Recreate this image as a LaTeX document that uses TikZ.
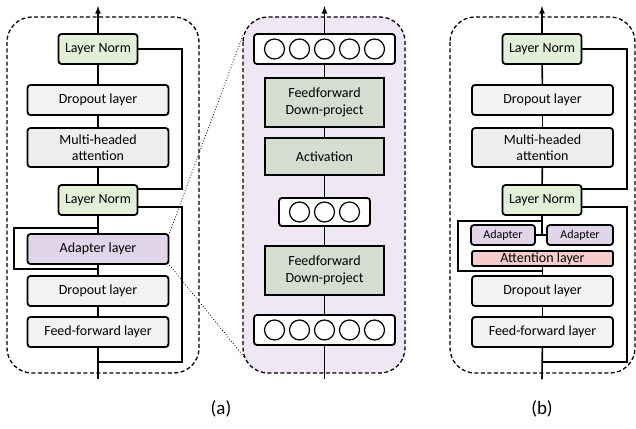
\documentclass[tikz,border=0pt]{standalone}
\usepackage{fontspec}
\setmainfont{Carlito}
\usetikzlibrary{arrows,shapes}
\definecolor{normgreen}{HTML}{E2EFD9}
\definecolor{paleGrey}{HTML}{F2F2F2}
\definecolor{attnGrey}{HTML}{EDEDED}
\definecolor{adaptPurple}{HTML}{E1D5EA}
\definecolor{projGreen}{HTML}{D5DCD0}
\definecolor{panelPurple}{HTML}{EFE7F4}
\definecolor{attnPink}{HTML}{F4CCCC}
\tikzstyle{layer}=[draw,rounded corners=3pt,line width=1.8pt,inner sep=0pt,align=center,font=\fontsize{14}{16.5}\selectfont]
\tikzstyle{norm}=[layer,fill=normgreen,minimum width=79pt,minimum height=30pt]
\tikzstyle{wide}=[layer,fill=paleGrey,minimum width=141pt,minimum height=30pt]
\tikzstyle{proj}=[layer,rounded corners=0pt,fill=projGreen,minimum width=119pt]
\tikzstyle{units}=[layer,fill=white]
\tikzstyle{unit}=[circle,draw,line width=1.2pt,minimum size=20pt,inner sep=0pt]
\tikzstyle{small}=[layer,fill=adaptPurple,minimum height=20pt,font=\fontsize{12}{14}\selectfont]
\tikzstyle{edge}=[draw,line width=1.6pt,-]
\tikzstyle{frame}=[draw,line width=1.3pt,dash pattern=on 4pt off 2.5pt,rounded corners=25pt]
\tikzstyle{zoomline}=[draw,line width=0.8pt,dotted]
\tikzstyle{caption}=[font=\fontsize{19}{22}\selectfont]

\begin{document}
\begin{tikzpicture}[x=1pt,y=-1pt]
    \useasboundingbox (0,0) rectangle (636,428);
    % (a) transformer block with one adapter
    \draw[frame] (7,17) rectangle (199,373);
    \node[norm] (ln1) at (98,49) {Layer Norm};
    \node[wide] (drop1) at (98,100) {Dropout layer};
    \node[wide,fill=attnGrey,minimum height=39pt] (mha) at (98,147.5) {Multi-headed\\attention};
    \node[norm] (ln2) at (98,200) {Layer Norm};
    \node[wide,fill=adaptPurple] (adapt) at (98,249) {Adapter layer};
    \node[wide] (drop2) at (98,291) {Dropout layer};
    \node[wide] (ff) at (98,332) {Feed-forward layer};
    \coordinate (outa) at (98,6);
    \coordinate (ina) at (98,379);
    \foreach \source/\dest in {ln1/drop1, drop1/mha, mha/ln2, ln2/adapt, adapt/drop2, drop2/ff}
        \path[edge] (\source) -- (\dest);
    \path[edge,-latex] (ln1) -- (outa);
    \path[edge] (ina) -- (ff);
    % residual connections
    \path[edge] (ln1.east) -| (182,189) -- (ln2.east |- 0,189);
    \path[edge] (ln2.east |- 0,207) -| (182,362) -- (98,362);
    \path[edge] (98,228) -| (14,269) -- (98,269);

    % adapter internals
    \draw[frame,fill=panelPurple] (243,17) rectangle (405,373);
    \node[units,minimum width=141pt,minimum height=30pt] (upper) at (324.5,49) {};
    \node[proj,minimum height=49pt] (up) at (324.5,102.5) {Feedforward\\Down-project};
    \node[proj,minimum height=37pt] (act) at (324.5,156.5) {Activation};
    \node[units,minimum width=91pt,minimum height=28pt] (bottleneck) at (324.5,212) {};
    \node[proj,minimum height=49pt] (down) at (324.5,270.5) {Feedforward\\Down-project};
    \node[units,minimum width=141pt,minimum height=30pt] (lower) at (324.5,330) {};
    \foreach \i in {-2,...,2} {
        \node[unit] (u\i) at (324.5+25*\i,49) {};
        \node[unit] (l\i) at (324.5+25*\i,330) {};
    }
    \foreach \i in {-1,0,1}
        \node[unit] (b\i) at (324.5+25*\i,212) {};
    \coordinate (outm) at (324.5,6);
    \coordinate (inm) at (324.5,379);
    \foreach \source/\dest in {upper/up, up/act, act/bottleneck, bottleneck/down, down/lower}
        \path[edge] (\source) -- (\dest);
    \path[edge,-latex] (upper) -- (outm);
    \path[edge] (inm) -- (lower);
    \coordinate (zoomtop) at (243,35);
    \coordinate (zoombot) at (245,358);
    \path[zoomline] (adapt.north east) -- (zoomtop);
    \path[zoomline] (adapt.south east) -- (zoombot);

    % (b) parallel adapters around attention
    \draw[frame] (450,17) rectangle (635,373);
    \node[norm] (lnb1) at (542,49) {Layer Norm};
    \node[wide] (dropb1) at (542.5,100) {Dropout layer};
    \node[wide,fill=attnGrey,minimum height=39pt] (mhab) at (542.5,147.5) {Multi-headed\\attention};
    \node[norm] (lnb2) at (542,200) {Layer Norm};
    \node[small,minimum width=64pt] (adl) at (503,235) {Adapter};
    \node[small,minimum width=66pt] (adr) at (580,235) {Adapter};
    \node[wide,fill=attnPink,minimum height=15pt,rounded corners=2pt] (att) at (542.5,258.5) {Attention layer};
    \node[wide] (dropb2) at (542.5,291) {Dropout layer};
    \node[wide] (ffb) at (542.5,332) {Feed-forward layer};
    \coordinate (outb) at (542,6);
    \coordinate (inb) at (542,379);
    \foreach \source/\dest in {lnb1/dropb1, dropb1/mhab, mhab/lnb2, att/dropb2, dropb2/ffb}
        \path[edge] (\source) -- (\dest);
    \path[edge,-latex] (lnb1) -- (outb);
    \path[edge] (inb) -- (ffb);
    \path[edge] (lnb2.south) -- (lnb2.south |- adl.east);
    \path[edge] (adl.east) -- (adr.west);
    % residual connections
    \path[edge] (lnb1.east) -| (627,189) -- (lnb2.east |- 0,189);
    \path[edge] (lnb2.east |- 0,207) -| (627,362) -- (542,362);
    \path[edge] (542,221) -| (458,271) -- (542,271);

    \node[caption] (capa) at (221,409) {(a)};
    \node[caption] (capb) at (542,409) {(b)};
\end{tikzpicture}
\end{document}
